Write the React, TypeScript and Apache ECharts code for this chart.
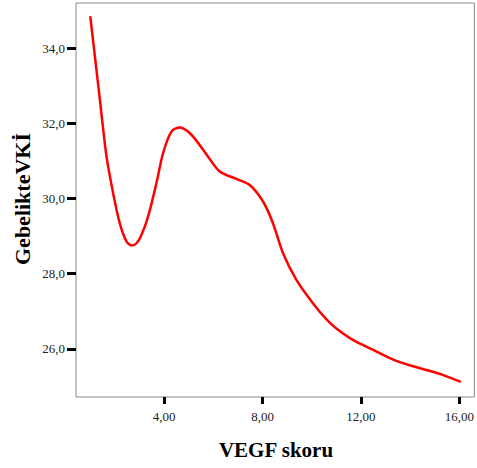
import React, { useEffect, useRef } from "react";
import * as echarts from "echarts";

const xValues = [1.0, 1.39, 1.66, 1.93, 2.2, 2.47, 2.68, 2.88, 3.08, 3.35, 3.69, 3.96, 4.3, 4.64, 4.97, 5.31, 5.78, 6.26, 6.94, 7.48, 8.02, 8.42, 8.83, 9.37, 10.04, 10.59, 10.99, 11.67, 12.48, 13.43, 14.37, 15.32, 16.06];
const yValues = [34.85, 32.63, 31.12, 30.14, 29.34, 28.86, 28.75, 28.81, 29.03, 29.52, 30.41, 31.21, 31.78, 31.89, 31.78, 31.54, 31.12, 30.72, 30.52, 30.36, 29.92, 29.35, 28.55, 27.84, 27.22, 26.79, 26.55, 26.24, 25.98, 25.68, 25.49, 25.31, 25.12];
const xTicks = [4, 8, 12, 16];
const yTicks = [26, 28, 30, 32, 34];
const xName = "VEGF skoru";
const yName = "GebelikteVKİ";

export default function App() {
  const ref = useRef<HTMLDivElement>(null);
  useEffect(() => {
    if (!ref.current) return;
    const chart = echarts.init(ref.current, null, { renderer: "svg" });
    const serif = "'Liberation Serif', 'DejaVu Serif', serif";
    chart.setOption({
      animation: false,
      backgroundColor: "#ffffff",
      grid: {
        left: 76,
        top: 3,
        right: 2,
        bottom: 71,
        show: true,
        borderColor: "#888888",
        borderWidth: 1,
        backgroundColor: "transparent",
      },
      xAxis: {
        type: "value",
        min: 0.42,
        max: 16.61,
        splitLine: { show: false },
        axisLine: { show: false },
        axisTick: {
          show: true,
          customValues: xTicks,
          length: 7,
          lineStyle: { color: "#000", width: 3 },
        },
        axisLabel: {
          customValues: xTicks,
          margin: 13,
          fontFamily: serif,
          fontSize: 13,
          color: "#222",
          formatter: (v: number) => v.toFixed(2).replace(".", ","),
        },
      },
      yAxis: {
        type: "value",
        min: 24.72,
        max: 35.2,
        splitLine: { show: false },
        axisLine: { show: false },
        axisTick: {
          show: true,
          customValues: yTicks,
          length: 9,
          lineStyle: { color: "#000", width: 3 },
        },
        axisLabel: {
          customValues: yTicks,
          margin: 11,
          fontFamily: serif,
          fontSize: 13,
          color: "#222",
          formatter: (v: number) => v.toFixed(1).replace(".", ","),
        },
      },
      graphic: [
        {
          type: "text",
          x: 276,
          y: 450,
          style: {
            text: xName,
            font: `bold 21px ${serif}`,
            fill: "#000",
            align: "center",
            verticalAlign: "middle",
          },
        },
        {
          type: "text",
          x: 22,
          y: 199,
          rotation: Math.PI / 2,
          style: {
            text: yName,
            font: `bold 22px ${serif}`,
            fill: "#000",
            align: "center",
            verticalAlign: "middle",
          },
        },
      ],
      series: [
        {
          type: "line",
          data: xValues.map((x, i) => [x, yValues[i]]),
          smooth: 0.3,
          showSymbol: false,
          lineStyle: { color: "#ff0000", width: 2.5 },
        },
      ],
    });
    return () => chart.dispose();
  }, []);
  return (
    <div
      ref={ref}
      style={{ position: "fixed", left: 0, top: 0, width: 477, height: 468 }}
    />
  );
}
